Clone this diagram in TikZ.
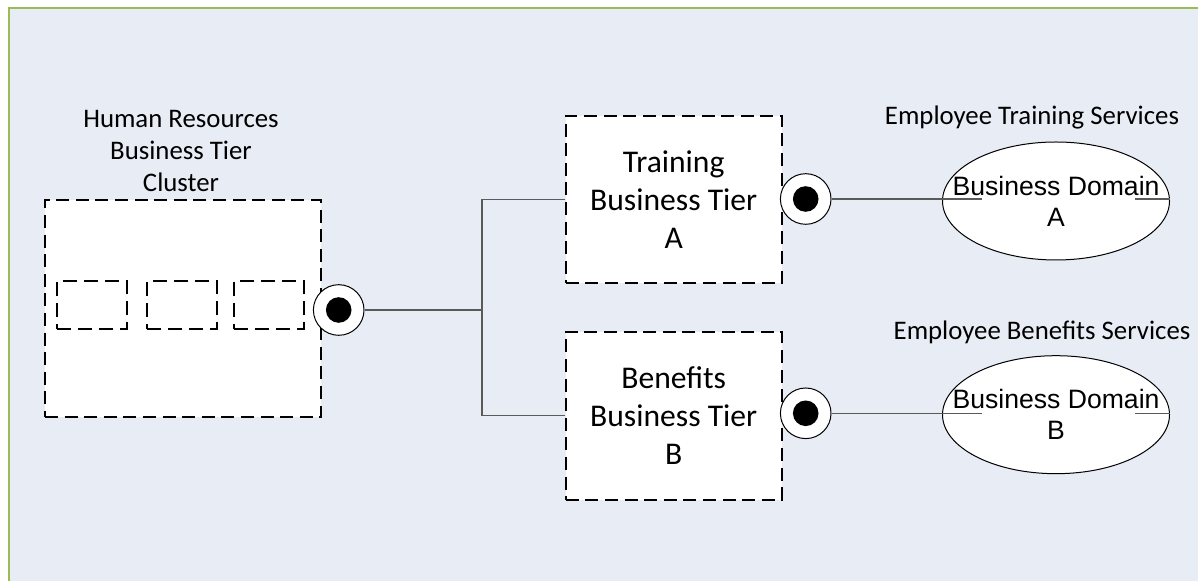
\documentclass[tikz,border=0pt]{standalone}
\usepackage{fontspec}
\setmainfont{Carlito}
\newfontfamily\arialfont{Liberation Sans}
\usepackage{tikz}
\usetikzlibrary{shapes.geometric, positioning}
\definecolor{PanelBlue}{RGB}{232,236,244}
\definecolor{FrameGreen}{RGB}{155,187,89}
\definecolor{WireGray}{RGB}{90,90,90}

\tikzset{
  tierbox/.style={draw, fill=white, line width=1pt, dash pattern=on 6.5pt off 3.3pt,
    inner sep=0pt, align=center, font=\fontsize{15.8}{19}\selectfont},
  slotbox/.style={draw, fill=white, line width=1pt, dash pattern=on 7pt off 3.5pt,
    inner sep=0pt, minimum width=35pt, minimum height=24pt},
  port/.style={circle, draw, fill=white, line width=0.5pt, inner sep=0pt, minimum size=25.3pt},
  portdot/.style={circle, fill=black, inner sep=0pt, minimum size=12.8pt},
  domainshape/.style={ellipse, draw, fill=white, line width=0.5pt, inner sep=0pt,
    minimum width=113.5pt, minimum height=59pt},
  domaintext/.style={align=center, inner sep=0pt,
    font=\arialfont\fontsize{13.3}{15.5}\selectfont},
  caption/.style={align=center, inner sep=0pt, font=\fontsize{13.4}{16}\selectfont},
  wire/.style={draw=WireGray, line width=0.6pt}
}

\begin{document}
\begin{tikzpicture}[x=0.5pt, y=-0.5pt]
  \useasboundingbox (0,0) rectangle (1198,581);
  \clip (0,0) rectangle (1198,581);
  % panel behind everything
  \fill[white] (0,0) rectangle (1198,581);
  \draw[FrameGreen, line width=1pt, fill=PanelBlue] (9,8) rectangle (1230,620);

  % cluster on the left
  \node[caption] (hrlabel) at (181,151) {Human Resources\\Business Tier\\Cluster};
  \node[tierbox, minimum width=138pt, minimum height=108.5pt] (hrbox) at (183,308.5) {};
  \node[slotbox] (slot1) at (92,305.5) {};
  \node[slotbox] (slot2) at (182,305.5) {};
  \node[slotbox] (slot3) at (269,305.5) {};
  \node[port] (hrport) at (338.7,310) {};
  \node[portdot] (hrdot) at (hrport) {};

  % business tiers
  \node[tierbox, minimum width=108pt, minimum height=83.8pt] (trainbox) at (673.7,199.5)
    {Training\\Business Tier\\A};
  \node[tierbox, minimum width=108pt, minimum height=84pt] (benebox) at (673.7,415.8)
    {Benefits\\Business Tier\\B};
  \node[port] (trainport) at (805.7,199) {};
  \node[portdot] (traindot) at (trainport) {};
  \node[port] (beneport) at (805.7,413.3) {};
  \node[portdot] (benedot) at (beneport) {};

  % business domains
  \node[caption] (trainlabel) at (1032,118) {Employee Training Services};
  \node[caption] (benelabel) at (1042,332) {Employee Benefits Services};
  \node[domainshape] (domainA) at (1056,201) {};
  \node[domaintext] (domainAtext) at (1056,201) {Business Domain\\A};
  \node[domainshape] (domainB) at (1056,414.7) {};
  \node[domaintext] (domainBtext) at (1056,414.7) {Business Domain\\B};

  % wiring
  \coordinate (split) at (482,310);
  \coordinate (inA) at (982,199);
  \coordinate (tickA) at (1135,199);
  \coordinate (inB) at (982,413.3);
  \coordinate (tickB) at (1135,413.3);
  \draw[wire] (hrport.east) -- (split);
  \draw[wire] (split) |- (trainbox.west);
  \draw[wire] (split) |- (benebox.west);
  \draw[wire] (trainport.east) -- (inA);
  \draw[wire] (tickA) -- (domainA.east |- tickA);
  \draw[wire] (beneport.east) -- (inB);
  \draw[wire] (tickB) -- (domainB.east |- tickB);
\end{tikzpicture}
\end{document}
